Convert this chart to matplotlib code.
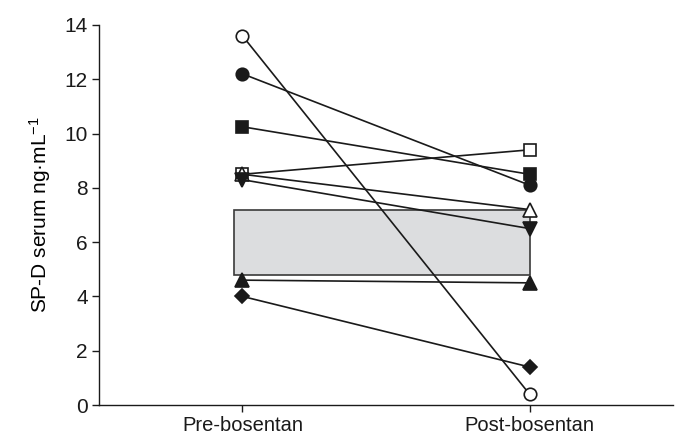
import matplotlib
matplotlib.use("Agg")
import matplotlib.pyplot as plt
from matplotlib.patches import Rectangle

plt.rcParams['font.family'] = ['Liberation Sans', 'DejaVu Sans']
plt.rcParams['mathtext.fontset'] = 'custom'
plt.rcParams['mathtext.rm'] = 'Liberation Sans'
plt.rcParams['mathtext.it'] = 'Liberation Sans'
plt.rcParams['mathtext.default'] = 'regular'

categories = ["Pre-bosentan", "Post-bosentan"]
# each patient: (pre, post), marker, filled
pre_values  = [13.6, 12.2, 10.25, 8.5, 8.5, 8.3, 4.6, 4.0]
post_values = [0.4, 8.1, 8.5, 9.4, 7.2, 6.5, 4.5, 1.4]
markers     = ["o", "o", "s", "s", "^", "v", "^", "D"]
filled      = [False, True, True, False, False, True, True, True]
marker_sizes = [9, 9, 8.5, 8.5, 9.5, 9.5, 9.5, 7.5]

band_low, band_high = 4.8, 7.2
band_x = (0.97, 2.0)

fig = plt.figure(figsize=(6.76, 4.36), dpi=100)
ax = fig.add_axes([0.1464, 0.0711, 0.8492, 0.8716])

ax.add_patch(Rectangle((band_x[0], band_low), band_x[1] - band_x[0], band_high - band_low,
                       facecolor="#dcdddf", edgecolor="#3a3a3a", linewidth=1.2, zorder=1))

xs = [1, 2]
for pre, post, m, f, ms in zip(pre_values, post_values, markers, filled, marker_sizes):
    ax.plot(xs, [pre, post], color="#1a1a1a", linewidth=1.2, zorder=2,
            marker=m, markersize=ms, markerfacecolor="#1a1a1a" if f else "white",
            markeredgecolor="#1a1a1a", markeredgewidth=1.2, clip_on=False)

ax.set_xlim(0.5, 2.5)
ax.set_ylim(0, 14)
ax.set_xticks(xs)
ax.set_xticklabels(categories, fontsize=14.5)
ax.set_yticks(range(0, 15, 2))
ax.tick_params(axis='y', labelsize=15, length=5, width=1, direction='out', colors="#1a1a1a", pad=3)
ax.tick_params(axis='x', length=5, width=1, direction='out', colors="#1a1a1a", pad=3)
ax.set_ylabel("SP-D serum ng·mL$^{-1}$", fontsize=15, labelpad=8)
for s in ["top", "right"]:
    ax.spines[s].set_visible(False)
for s in ["left", "bottom"]:
    ax.spines[s].set_color("#1a1a1a")
    ax.spines[s].set_linewidth(1.0)

fig.savefig("out.png", dpi=100)
